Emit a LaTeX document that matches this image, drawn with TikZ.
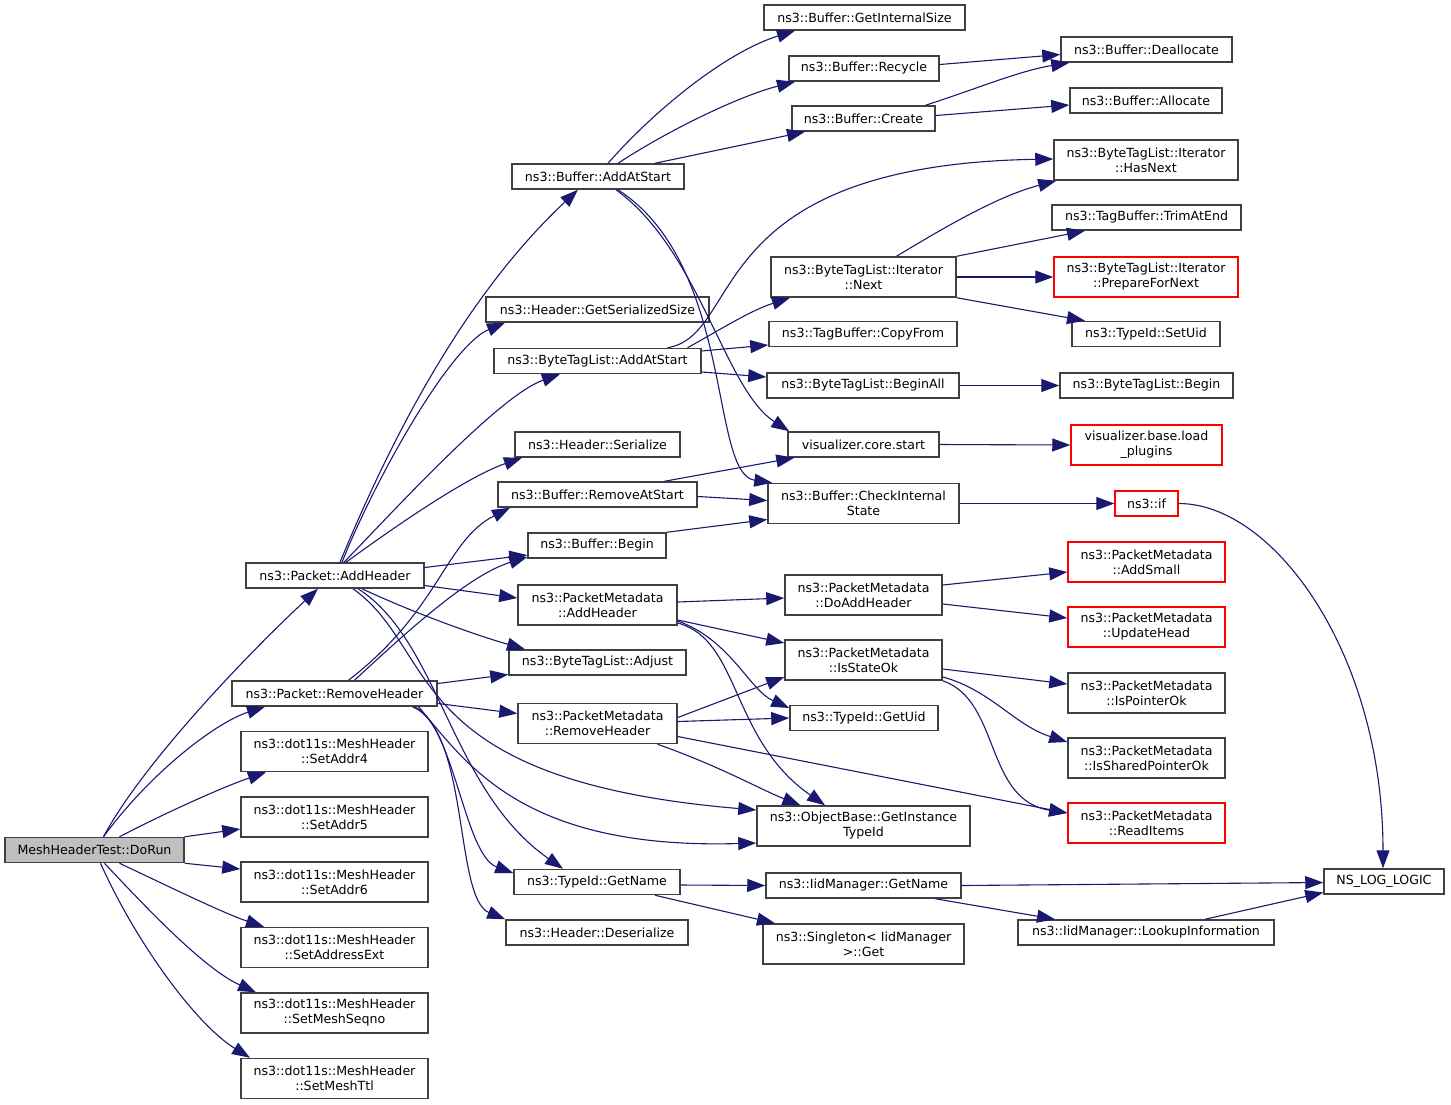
\documentclass[tikz,border=0pt]{standalone}
\usepackage{fontspec}
\setmainfont{DejaVu Sans}
\usetikzlibrary{arrows.meta}
\definecolor{edgeblue}{HTML}{191970}
\definecolor{boxgray}{HTML}{404040}
\definecolor{rootgray}{HTML}{BFBFBF}
\begin{document}
\begin{tikzpicture}[x=1pt,y=-1pt,
        fn node/.style={rectangle,draw=boxgray,line width=1.5pt,align=center,inner sep=1pt,
            minimum height=25,font=\fontsize{12.6}{15}\selectfont},
        two node/.style={fn node,minimum height=40},
        red node/.style={draw=red},
        root node/.style={fn node,fill=rootgray},
        call/.style={color=edgeblue,line width=1.1pt,-{Triangle[length=18pt,width=13pt]}}]

    \useasboundingbox (0,0) rectangle (1451,1104);

    % column 0 and 1
    \node[root node,minimum width=179] (dorun) at (94.5,850) {MeshHeaderTest::DoRun};
    \node[fn node,minimum width=178] (addh) at (335,575.5) {ns3::Packet::AddHeader};
    \node[fn node,minimum width=205] (remh) at (334.5,693.5) {ns3::Packet::RemoveHeader};
    \node[two node,minimum width=187] (addr4) at (334.5,751.5) {ns3::dot11s::MeshHeader\\::SetAddr4};
    \node[two node,minimum width=187] (addr5) at (334.5,817) {ns3::dot11s::MeshHeader\\::SetAddr5};
    \node[two node,minimum width=187] (addr6) at (334.5,882) {ns3::dot11s::MeshHeader\\::SetAddr6};
    \node[two node,minimum width=187] (addrext) at (334.5,947.5) {ns3::dot11s::MeshHeader\\::SetAddressExt};
    \node[two node,minimum width=187] (seqno) at (334.5,1013) {ns3::dot11s::MeshHeader\\::SetMeshSeqno};
    \node[two node,minimum width=187] (ttl) at (334.5,1078.5) {ns3::dot11s::MeshHeader\\::SetMeshTtl};

    % column 2
    \node[fn node,minimum width=172] (bufadd) at (598,176.5) {ns3::Buffer::AddAtStart};
    \node[fn node,minimum width=223] (getser) at (597.5,309.5) {ns3::Header::GetSerializedSize};
    \node[fn node,minimum width=207] (btladd) at (597.5,361) {ns3::ByteTagList::AddAtStart};
    \node[fn node,minimum width=165] (hser) at (597.5,444.5) {ns3::Header::Serialize};
    \node[fn node,minimum width=199] (bufrem) at (597.5,494.5) {ns3::Buffer::RemoveAtStart};
    \node[fn node,minimum width=138] (bufbegin) at (597,545.5) {ns3::Buffer::Begin};
    \node[two node,minimum width=159] (pmadd) at (597.5,605) {ns3::PacketMetadata\\::AddHeader};
    \node[fn node,minimum width=177] (btladj) at (597.5,662.5) {ns3::ByteTagList::Adjust};
    \node[two node,minimum width=159] (pmrem) at (597.5,723.5) {ns3::PacketMetadata\\::RemoveHeader};
    \node[fn node,minimum width=166] (getname) at (597,882) {ns3::TypeId::GetName};
    \node[fn node,minimum width=182] (hdeser) at (597,932.5) {ns3::Header::Deserialize};

    % column 3
    \node[fn node,minimum width=201] (getint) at (864.5,17.5) {ns3::Buffer::GetInternalSize};
    \node[fn node,minimum width=150] (recycle) at (864,68.5) {ns3::Buffer::Recycle};
    \node[fn node,minimum width=143] (create) at (863.5,118.5) {ns3::Buffer::Create};
    \node[two node,minimum width=185] (itnext) at (863.5,277) {ns3::ByteTagList::Iterator\\::Next};
    \node[fn node,minimum width=188] (copyfrom) at (863,334) {ns3::TagBuffer::CopyFrom};
    \node[fn node,minimum width=192] (beginall) at (863,385.5) {ns3::ByteTagList::BeginAll};
    \node[fn node,minimum width=151] (vcore) at (863.5,444.5) {visualizer.core.start};
    \node[two node,minimum width=191] (checkint) at (863.5,503.5) {ns3::Buffer::CheckInternal\\State};
    \node[two node,minimum width=157] (doadd) at (863.5,595) {ns3::PacketMetadata\\::DoAddHeader};
    \node[two node,minimum width=157] (isstate) at (863.5,660) {ns3::PacketMetadata\\::IsStateOk};
    \node[fn node,minimum width=148] (getuid) at (864,718) {ns3::TypeId::GetUid};
    \node[two node,minimum width=213] (objbase) at (863.5,826) {ns3::ObjectBase::GetInstance\\TypeId};
    \node[fn node,minimum width=195] (iidname) at (863.5,885.5) {ns3::IidManager::GetName};
    \node[two node,minimum width=201] (singleton) at (863.5,944) {ns3::Singleton< IidManager\\ >::Get};

    % column 4
    \node[fn node,minimum width=171] (dealloc) at (1146.5,49.5) {ns3::Buffer::Deallocate};
    \node[fn node,minimum width=152] (alloc) at (1146,100.5) {ns3::Buffer::Allocate};
    \node[two node,minimum width=184] (hasnext) at (1146,160) {ns3::ByteTagList::Iterator\\::HasNext};
    \node[fn node,minimum width=189] (trim) at (1146.5,217.5) {ns3::TagBuffer::TrimAtEnd};
    \node[two node,red node,minimum width=184] (prepare) at (1146,277) {ns3::ByteTagList::Iterator\\::PrepareForNext};
    \node[fn node,minimum width=148] (setuid) at (1146,334) {ns3::TypeId::SetUid};
    \node[fn node,minimum width=173] (btlbegin) at (1146.5,385.5) {ns3::ByteTagList::Begin};
    \node[two node,red node,minimum width=151] (vload) at (1146.5,445) {visualizer.base.load\\\_plugins};
    \node[fn node,red node,minimum width=63] (nsif) at (1146.5,503.5) {ns3::if};
    \node[two node,red node,minimum width=157] (addsmall) at (1146.5,562) {ns3::PacketMetadata\\::AddSmall};
    \node[two node,red node,minimum width=157] (updhead) at (1146.5,627) {ns3::PacketMetadata\\::UpdateHead};
    \node[two node,minimum width=157] (isptr) at (1146.5,693) {ns3::PacketMetadata\\::IsPointerOk};
    \node[two node,minimum width=157] (isshared) at (1146.5,758) {ns3::PacketMetadata\\::IsSharedPointerOk};
    \node[two node,red node,minimum width=157] (readitems) at (1146.5,823) {ns3::PacketMetadata\\::ReadItems};
    \node[fn node,minimum width=256] (lookup) at (1146,932.5) {ns3::IidManager::LookupInformation};
    \node[fn node,minimum width=120] (nslog) at (1384,881.5) {NS\_LOG\_LOGIC};

    % calls of DoRun
    \draw[call] ([xshift=9]dorun.north) .. controls +(40,-75) and +(-65,60) .. ([xshift=-17]addh.south);
    \draw[call] ([xshift=9]dorun.north) .. controls +(46,-63) and +(-50,16) .. ([xshift=-69.5]remh.south);
    \draw[call] ([xshift=25]dorun.north) .. controls +(50,-26) and +(-41,14) .. ([xshift=-68.5]addr4.south);
    \draw[call] ([xshift=25]dorun.south) .. controls +(55,26) and +(-39,-13) .. ([xshift=-70.5]addrext.north);
    \draw[call] ([xshift=10]dorun.south) .. controls +(45,48) and +(-51,-23) .. ([xshift=-78.5]seqno.north);
    \draw[call] ([xshift=6]dorun.south) .. controls +(35,78) and +(-55,-34) .. ([xshift=-84.5]ttl.north);
    \path[call]
    (dorun.north east) edge ([yshift=-12]addr5.west)
    (dorun.south east) edge ([yshift=13]addr6.west);

    % calls of Packet::AddHeader
    \draw[call] ([xshift=5]addh.north) .. controls +(57,-138) and +(-108,101) .. ([xshift=-20]bufadd.south);
    \draw[call] ([xshift=7]addh.north) .. controls +(33,-83) and +(-55,23) .. ([xshift=-92.5]getser.south);
    \draw[call] ([xshift=9]addh.north) .. controls +(56,-58) and +(-60,21) .. ([xshift=-37.5]btladd.south);
    \draw[call] ([xshift=11]addh.north) .. controls +(59,-43) and +(-52,18) .. ([xshift=-75.5]hser.south);
    \draw[call] ([xshift=27]addh.south) .. controls +(58,27) and +(-45,-13) .. ([xshift=-72.5]btladj.north);
    \draw[call] ([xshift=18]addh.south) .. controls +(87,62) and +(-357,-30) .. ([yshift=16]objbase.west);
    \draw[call] ([xshift=23]addh.south) .. controls +(82,52) and +(-113,-79) .. ([xshift=-34]getname.north);
    \path[call]
    ([yshift=8]addh.east) edge ([yshift=-9.5]bufbegin.west)
    ([yshift=-10]addh.east) edge ([yshift=7]pmadd.west);

    % calls of Packet::RemoveHeader
    \draw[call] ([xshift=14]remh.north) .. controls +(92,-71) and +(-65,33) .. ([xshift=-87.5]bufrem.south);
    \draw[call] ([xshift=20]remh.north) .. controls +(55,-51) and +(-58,18) .. ([yshift=-11.5]bufbegin.west);
    \draw[call] ([xshift=80]remh.south) .. controls +(40,19) and +(-49,-18) .. ([yshift=9]getname.west);
    \draw[call] ([xshift=78]remh.south) .. controls +(57,24) and +(-51,-21) .. (hdeser.north west);
    \draw[call] ([xshift=84]remh.south) .. controls +(46.5,54) and +(-237,7) .. ([yshift=-17]objbase.west);
    \path[call]
    ([yshift=10]remh.east) edge ([yshift=-12]btladj.west)
    ([yshift=-10]remh.east) edge ([yshift=10]pmrem.west);

    % calls of Buffer::AddAtStart
    \draw[call] ([xshift=10]bufadd.north) .. controls +(52,-59) and +(-65,20) .. ([xshift=-69.5]getint.south);
    \draw[call] ([xshift=20]bufadd.north) .. controls +(52,-34) and +(-55,14) .. ([xshift=-69]recycle.south);
    \draw[call] ([xshift=18]bufadd.south) .. controls +(84,61) and +(-65,-42) .. ([xshift=2]vcore.north west);
    \draw[call] ([xshift=20]bufadd.south) .. controls +(117,76) and +(-63,-9) .. ([xshift=5]checkint.north west);
    \path[call] ([xshift=57]bufadd.north) edge ([xshift=-58.5]create.south);

    % calls of ByteTagList::AddAtStart
    \draw[call] ([xshift=70]btladd.north) .. controls +(77.5,-13) and +(-354,6) .. ([yshift=1]hasnext.west);
    \draw[call] ([xshift=90]btladd.north) .. controls +(32.5,-18) and +(-40,13) .. ([xshift=-73.5]itnext.south);
    \path[call]
    ([yshift=10]btladd.east) edge ([yshift=-11]copyfrom.west)
    ([yshift=-11]btladd.east) edge ([yshift=8.5]beginall.west);

    % calls of Iterator::Next
    \draw[call] ([xshift=33]itnext.north) .. controls +(53,-32) and +(-57,15) .. ([xshift=3]hasnext.south west);
    \path[call]
    (itnext.north east) edge ([xshift=-61.5]trim.south)
    (itnext.east) edge (prepare.west)
    (itnext.south east) edge ([xshift=-61]setuid.north);

    % buffer internals
    \draw[call] ([xshift=62]create.north) .. controls +(50,-16) and +(-50,8) .. ([xshift=9]dealloc.south west);
    \path[call]
    ([yshift=4]recycle.east) edge ([yshift=-5]dealloc.west)
    ([yshift=3]create.east) edge ([yshift=-4.5]alloc.west)
    (beginall.east) edge (btlbegin.west)
    (vcore.east) edge (vload.west)
    ([xshift=67]bufrem.north) edge ([xshift=7]vcore.south west)
    ([yshift=-2]bufrem.east) edge ([yshift=3]checkint.west)
    (bufbegin.north east) edge ([yshift=-16]checkint.west)
    (checkint.east) edge (nsif.west);
    \draw[call] (nsif.east) .. controls +(95,0) and +(0,-215) .. ([xshift=-1]nslog.north);

    % packet metadata
    \draw[call] ([yshift=-16]pmadd.east) .. controls +(53,19) and +(-40,-18) .. ([yshift=10]getuid.west);
    \draw[call] ([yshift=-18]pmadd.east) .. controls +(63,17) and +(-95,-66) .. ([xshift=-38.5]objbase.north);
    \draw[call] ([xshift=60]pmrem.south) .. controls +(62.5,22) and +(-40.5,-16) .. ([xshift=-63]objbase.north);
    \draw[call] ([yshift=-17]isstate.east) .. controls +(48,13) and +(-53,-17) .. ([yshift=16]isshared.west);
    \draw[call] (isstate.south east) .. controls +(58,20) and +(-83,-13) .. ([yshift=10]readitems.west);
    \path[call]
    ([yshift=3]pmadd.east) edge ([yshift=-3]doadd.west)
    ([yshift=-15]pmadd.east) edge ([yshift=17]isstate.west)
    ([yshift=6]pmrem.east) edge ([yshift=-17]isstate.west)
    ([yshift=2]pmrem.east) edge (getuid.west)
    ([yshift=-13]pmrem.east) edge ([yshift=10]readitems.west)
    ([yshift=10]doadd.east) edge ([yshift=-10]addsmall.west)
    ([yshift=-9]doadd.east) edge ([yshift=9]updhead.west)
    ([yshift=-9]isstate.east) edge ([yshift=9]isptr.west);

    % type ids
    \path[call]
    ([yshift=-3]getname.east) edge (iidname.west)
    ([xshift=58]getname.south) edge ([xshift=-88.5]singleton.north)
    (iidname.east) edge ([yshift=-1]nslog.west)
    ([xshift=72]iidname.south) edge ([xshift=-91]lookup.north)
    ([xshift=59]lookup.north) edge ([yshift=-11]nslog.west);
\end{tikzpicture}
\end{document}
